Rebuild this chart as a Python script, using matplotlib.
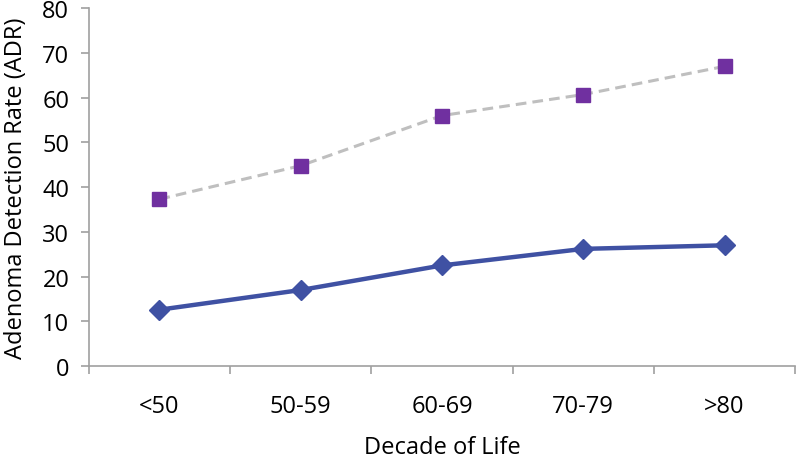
import matplotlib
matplotlib.use("Agg")
import matplotlib.pyplot as plt
import numpy as np

plt.rcParams["font.family"] = ["Open Sans", "DejaVu Sans"]

decades = ["<50", "50-59", "60-69", "70-79", ">80"]
adr_lower = [12.6, 17.0, 22.5, 26.2, 27.0]
adr_upper = [37.3, 44.8, 56.0, 60.7, 67.0]

fig = plt.figure(figsize=(8, 4.6), dpi=100)
ax = fig.add_axes([0.111, 0.202, 0.883, 0.778])

x = np.arange(len(decades))

ax.plot(x, adr_upper, color="#BFBFBF", linestyle=(0, (3.5, 2)), linewidth=2.2,
        marker="s", markersize=10, markerfacecolor="#7030A0",
        markeredgecolor="#7030A0", zorder=3)
ax.plot(x, adr_lower, color="#3F51A3", linewidth=3.2,
        marker="D", markersize=10, markerfacecolor="#3F51A3",
        markeredgecolor="#3F51A3", zorder=4)

ax.set_xlim(-0.5, len(decades) - 0.5)
ax.set_ylim(0, 80)
ax.set_yticks(np.arange(0, 81, 10))
ax.set_xticks(x)
ax.set_xticklabels(decades)
ax.set_xticks(np.arange(-0.5, len(decades), 1), minor=True)

ax.tick_params(axis="x", which="major", length=0, pad=20, labelsize=17)
ax.tick_params(axis="x", which="minor", length=6, direction="out", color="#A0A0A0", width=1.2)
ax.tick_params(axis="y", length=6, direction="out", color="#A0A0A0", width=1.2,
               labelsize=17, pad=8)

for side in ["top", "right"]:
    ax.spines[side].set_visible(False)
for side in ["left", "bottom"]:
    ax.spines[side].set_color("#A0A0A0")
    ax.spines[side].set_linewidth(1.2)

ax.set_xlabel("Decade of Life", fontsize=17, labelpad=12)
ax.set_ylabel("Adenoma Detection Rate (ADR)", fontsize=17, labelpad=10)

fig.savefig("out.png", dpi=100)
